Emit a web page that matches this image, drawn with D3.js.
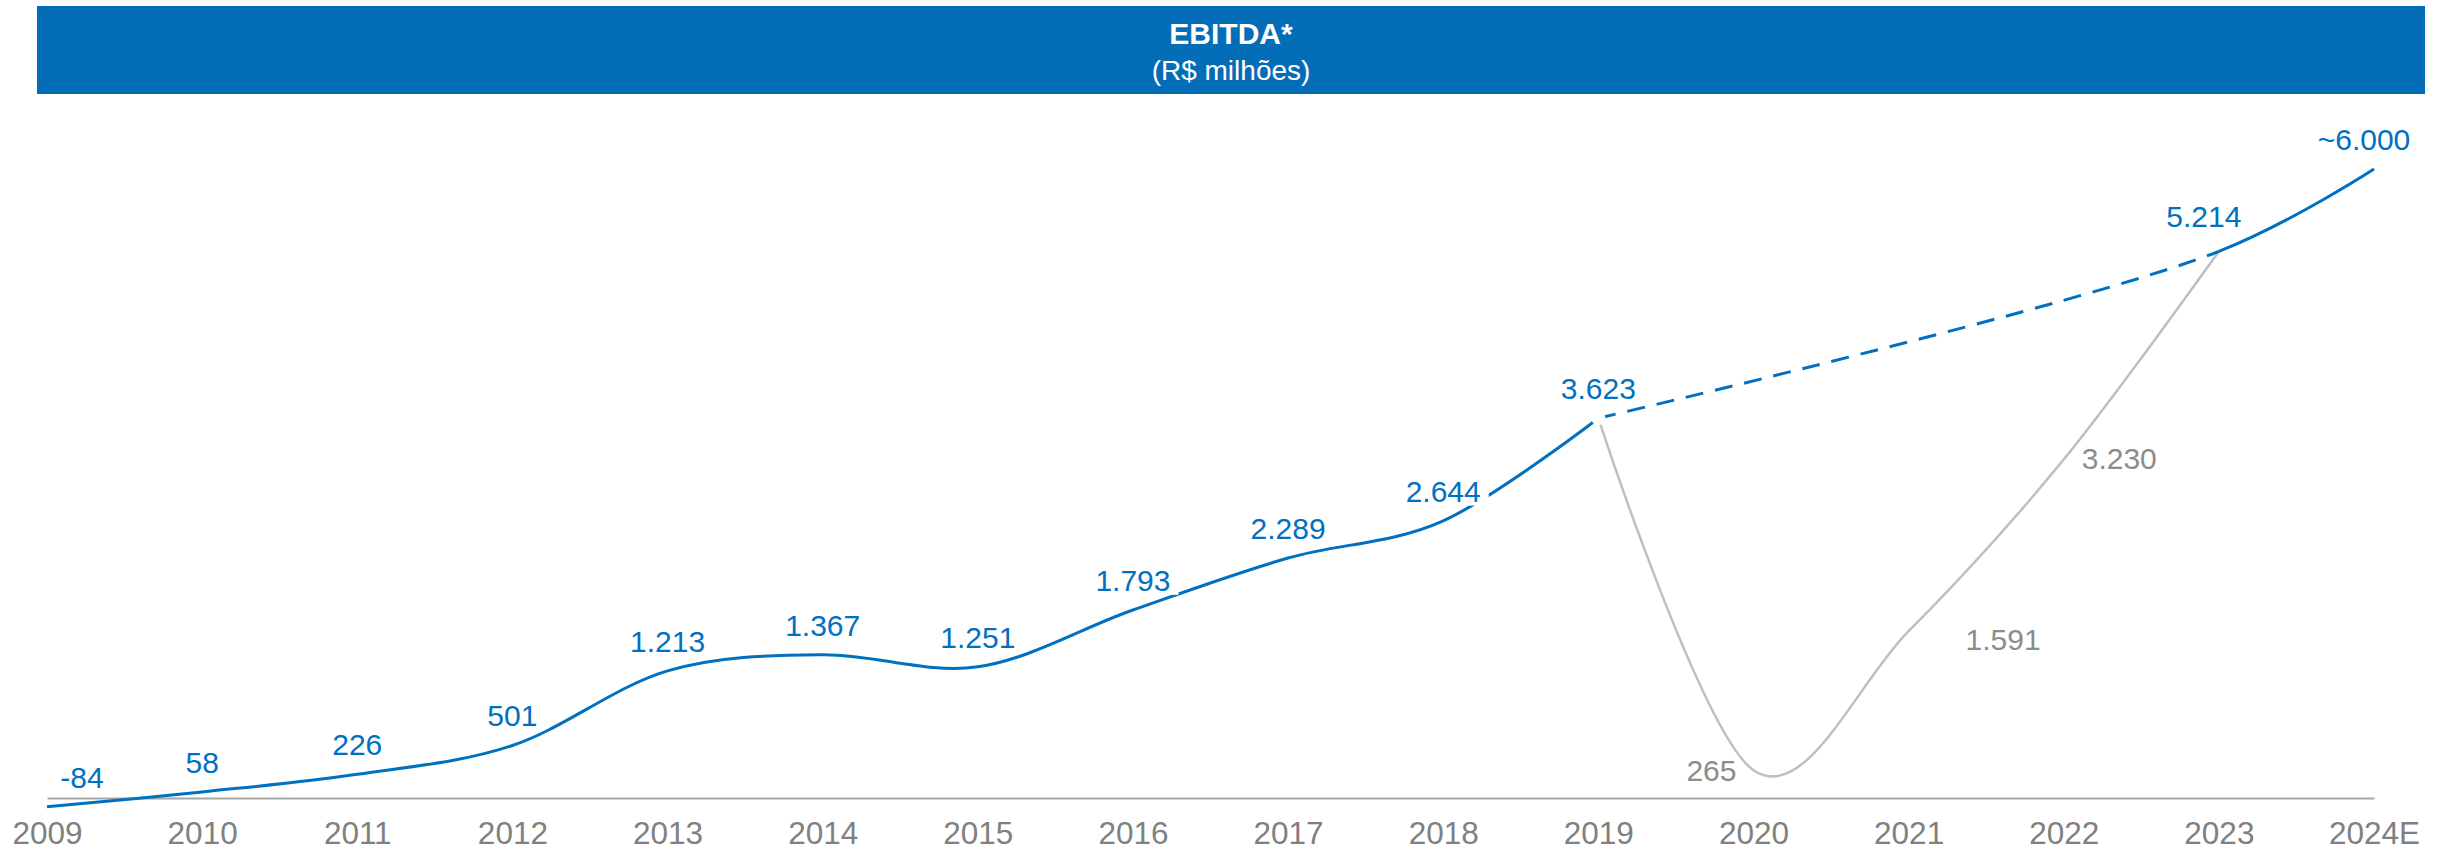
<!DOCTYPE html>
<html>
<head>
<meta charset="utf-8">
<script src="https://cdn.jsdelivr.net/npm/d3@7"></script>
<style>
  body { margin: 0; background: #fff; }
  svg { display: block; font-family: "Liberation Sans", Arial, sans-serif; }
</style>
</head>
<body>
<svg id="chart" width="2448" height="850"></svg>
<script>
// data
const years = ["2009", "2010", "2011", "2012", "2013", "2014", "2015", "2016",
               "2017", "2018", "2019", "2020", "2021", "2022", "2023", "2024E"];
// realised EBITDA up to 2019
const ebitda = [-84, 58, 226, 501, 1213, 1367, 1251, 1793, 2289, 2644, 3623,
                null, null, null, null, null];
// pre-pandemic trajectory (dashed 2019-2023) and guidance
const planned = [null, null, null, null, null, null, null, null, null, null, 3623,
                 null, null, null, 5214, 6000];
// actual path through the pandemic years
const pandemic = [null, null, null, null, null, null, null, null, null, null,
                  3623, 265, 1591, 3230, 5214, null];
const pandemicLabelled = ["2020", "2021", "2022"];
const plannedLabelled = ["2023", "2024E"];

// label nudges (layout only)
const blueNudge = { "2009": [35, -30], "2023": [-15, -35], "2024E": [-10, -30] };
const grayNudge = { "2020": [-17, 0, "end"], "2021": [57, 8, "start"], "2022": [18, -1, "start"] };

const BLUE = "#0070C0", BAR = "#046DB8", GRAY_LINE = "#BFBFBF", GRAY_TEXT = "#8C8C8C";

const ptBR = d3.formatLocale({ decimal: ",", thousands: ".", grouping: [3], currency: ["R$", ""] });
const fmt = ptBR.format(",d");
const label = (year, v) => (year.endsWith("E") ? "~" : "") + fmt(v).replace("−", "-");

const svg = d3.select("#chart");
const W = 2448;

// title bar
svg.append("rect")
    .attr("x", 37).attr("y", 6)
    .attr("width", 2388).attr("height", 88)
    .attr("fill", BAR);
svg.append("text")
    .attr("x", 1231).attr("y", 44)
    .attr("text-anchor", "middle")
    .attr("fill", "#fff")
    .attr("font-size", 30).attr("font-weight", "bold")
    .text("EBITDA*");
svg.append("text")
    .attr("x", 1231).attr("y", 80)
    .attr("text-anchor", "middle")
    .attr("fill", "#fff")
    .attr("font-size", 28)
    .text("(R$ milhões)");

const x = d3.scalePoint().domain(years).range([47, 2374]).padding(0);
const y = d3.scaleLinear().domain([0, 6000]).range([798, 169]);

// axis
const axis = svg.append("g")
    .attr("transform", `translate(0,${y(0)})`)
    .call(d3.axisBottom(x).tickSize(0).tickSizeOuter(0).tickPadding(24));
axis.select(".domain").attr("stroke", "#A6A6A6").attr("stroke-width", 2);
axis.selectAll("text")
    .attr("fill", "#808080")
    .attr("font-size", 31.5)
    .attr("font-family", "Liberation Sans, Arial, sans-serif");

const line = d3.line()
    .x(d => x(d.year))
    .y(d => y(d.v))
    .curve(d3.curveCardinal.tension(0));
const plannedLine = d3.line()
    .x(d => x(d.year))
    .y(d => y(d.v))
    .curve(d3.curveCatmullRom.alpha(0.5));

const toPoints = arr => years.map((year, i) => ({ year, v: arr[i] })).filter(d => d.v !== null);
const actualData = toPoints(ebitda);
const plannedData = toPoints(planned);
const grayData = toPoints(pandemic);

// planned path: dashed up to 2023, solid afterwards
const defs = svg.append("defs");
defs.append("clipPath").attr("id", "dashClip")
    .append("rect")
    .attr("x", x("2019")).attr("y", 0)
    .attr("width", x("2023") - x("2019")).attr("height", 850);
defs.append("clipPath").attr("id", "tailClip")
    .append("rect")
    .attr("x", x("2023")).attr("y", 0)
    .attr("width", W - x("2023")).attr("height", 850);

svg.append("path")
    .datum(grayData)
    .attr("d", line)
    .attr("fill", "none")
    .attr("stroke", GRAY_LINE)
    .attr("stroke-width", 2.5);

svg.append("path")
    .datum(actualData)
    .attr("d", line)
    .attr("fill", "none")
    .attr("stroke", BLUE)
    .attr("stroke-width", 3);

svg.append("path")
    .datum(plannedData)
    .attr("d", plannedLine)
    .attr("clip-path", "url(#dashClip)")
    .attr("fill", "none")
    .attr("stroke", BLUE)
    .attr("stroke-width", 3)
    .attr("stroke-dasharray", "18,12");

svg.append("path")
    .datum(plannedData)
    .attr("d", plannedLine)
    .attr("clip-path", "url(#tailClip)")
    .attr("fill", "none")
    .attr("stroke", BLUE)
    .attr("stroke-width", 3);

// white marker where the paths split
svg.append("circle")
    .attr("cx", x(grayData[0].year))
    .attr("cy", y(grayData[0].v))
    .attr("r", 7)
    .attr("fill", "#fff");

// blue labels with white background boxes
const blueData = actualData.concat(plannedData.filter(d => plannedLabelled.includes(d.year)));
const blueLabels = svg.append("g").selectAll("g")
    .data(blueData)
    .join("g")
    .attr("transform", d => {
        const n = blueNudge[d.year] || [0, -30];
        return `translate(${x(d.year) + n[0]},${y(d.v) + n[1]})`;
    });
blueLabels.append("text")
    .attr("text-anchor", "middle")
    .attr("dy", "0.36em")
    .attr("fill", BLUE)
    .attr("font-size", 30)
    .text(d => label(d.year, d.v))
    .each(function () {
        const b = this.getBBox();
        d3.select(this.parentNode).insert("rect", "text")
            .attr("x", b.x - 8).attr("y", b.y + 2)
            .attr("width", b.width + 16).attr("height", b.height - 4)
            .attr("fill", "#fff");
    });

// gray labels
svg.append("g").selectAll("text")
    .data(grayData.filter(d => pandemicLabelled.includes(d.year)))
    .join("text")
    .attr("x", d => x(d.year) + grayNudge[d.year][0])
    .attr("y", d => y(d.v) + grayNudge[d.year][1])
    .attr("text-anchor", d => grayNudge[d.year][2])
    .attr("dy", "0.36em")
    .attr("fill", GRAY_TEXT)
    .attr("font-size", 30)
    .text(d => label(d.year, d.v));
</script>
</body>
</html>
